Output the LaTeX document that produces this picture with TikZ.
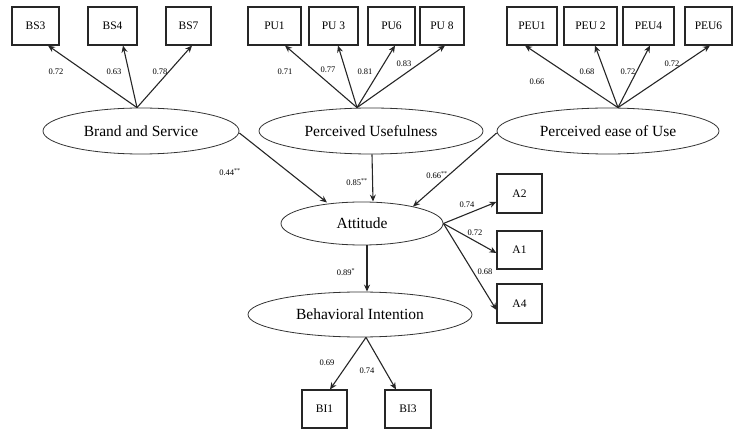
\documentclass[tikz,border=0pt]{standalone}
\usepackage{fontspec}
\setmainfont{Liberation Serif}
\usetikzlibrary{shapes.geometric,arrows.meta,calc}
\begin{document}
\begin{tikzpicture}[x=1pt,y=-1pt,
  obs/.style={draw=black!85,line width=1.1pt,rectangle,inner sep=0pt,minimum height=38pt,font=\fontsize{11.5}{12}\selectfont},
  lat/.style={draw=black!80,line width=0.8pt,ellipse,inner sep=0pt,font=\fontsize{15.5}{16}\selectfont},
  arr/.style={draw=black!85,line width=1.1pt,-{Stealth[length=7pt,width=6pt]}},
  lbl/.style={inner sep=0pt,font=\fontsize{8.5}{9}\selectfont}]
\useasboundingbox (0,0) rectangle (733,430);
% observed boxes
\node[obs,minimum width=47pt] (bs3) at (35.5,26) {BS3};
\node[obs,minimum width=49pt] (bs4) at (112.5,26) {BS4};
\node[obs,minimum width=45pt] (bs7) at (188.5,26) {BS7};
\node[obs,minimum width=53pt] (pu1) at (274.5,26) {PU1};
\node[obs,minimum width=49pt] (pu3) at (333.5,26) {PU 3};
\node[obs,minimum width=47pt] (pu6) at (391.5,26) {PU6};
\node[obs,minimum width=44pt] (pu8) at (442,26) {PU 8};
\node[obs,minimum width=50pt] (peu1) at (532,26) {PEU1};
\node[obs,minimum width=53pt] (peu2) at (590.5,26) {PEU 2};
\node[obs,minimum width=51pt] (peu4) at (648.5,26) {PEU4};
\node[obs,minimum width=47pt] (peu6) at (708.5,26) {PEU6};
\node[obs,minimum width=45pt,minimum height=39pt] (a2) at (519.5,193.5) {A2};
\node[obs,minimum width=45pt] (a1) at (519.5,250) {A1};
\node[obs,minimum width=45pt,minimum height=39pt] (a4) at (519.5,303.5) {A4};
\node[obs,minimum width=45pt] (bi1) at (324.5,409) {BI1};
\node[obs,minimum width=46pt] (bi3) at (408,409) {BI3};
% latent ellipses
\node[lat,minimum width=196pt,minimum height=46pt] (bs) at (141,131) {Brand and Service};
\node[lat,minimum width=224pt,minimum height=46pt] (pu) at (371,131) {Perceived Usefulness};
\node[lat,minimum width=222pt,minimum height=46pt] (peu) at (608,131) {Perceived ease of Use};
\node[lat,minimum width=162pt,minimum height=43pt] (att) at (362,223.5) {Attitude};
\node[lat,minimum width=224pt,minimum height=45pt] (bi) at (360,314.5) {Behavioral Intention};
% loadings
\draw[arr] ([xshift=-4pt]bs.north) -- ([xshift=12.5pt]bs3.south);
\draw[arr] ([xshift=-4pt]bs.north) -- ([xshift=10.5pt]bs4.south);
\draw[arr] ([xshift=-4pt]bs.north) -- ([xshift=3.5pt]bs7.south);
\draw[arr] ([xshift=-14pt]pu.north) -- ([xshift=10.5pt]pu1.south);
\draw[arr] ([xshift=-14pt]pu.north) -- ([xshift=4.5pt]pu3.south);
\draw[arr] ([xshift=-14pt]pu.north) -- ([xshift=3.5pt]pu6.south);
\draw[arr] ([xshift=-14pt]pu.north) -- ([xshift=3pt]pu8.south);
\draw[arr] ([xshift=10pt]peu.north) -- ([xshift=-7pt]peu1.south);
\draw[arr] ([xshift=10pt]peu.north) -- ([xshift=4.5pt]peu2.south);
\draw[arr] ([xshift=10pt]peu.north) -- ([xshift=1.5pt]peu4.south);
\draw[arr] ([xshift=10pt]peu.north) -- ([xshift=1.5pt]peu6.south);
% structural paths
\draw[arr] ([yshift=-2pt]bs.east) -- ($(att.center)+(-35,-21)$);
\draw[arr] ([xshift=1pt]pu.south) -- ([xshift=11pt]att.north);
\draw[arr] ([yshift=-2pt]peu.west) -- ($(att.center)+(51,-17)$);
\draw[arr] (att.east) -- ([yshift=-8.5pt]a2.west);
\draw[arr] (att.east) -- ([yshift=-3pt]a1.west);
\draw[arr] (att.east) -- ([yshift=-6.5pt]a4.west);
\draw[arr] ([xshift=5pt]att.south) -- ([xshift=7pt]bi.north);
\draw[arr] ([xshift=6pt]bi.south) -- ([xshift=5.5pt]bi1.north);
\draw[arr] ([xshift=6pt]bi.south) -- ([xshift=-12pt]bi3.north);
% labels
\node[lbl] (l1) at (56,72) {0.72};
\node[lbl] (l2) at (114,72) {0.63};
\node[lbl] (l3) at (160,72) {0.78};
\node[lbl] (l4) at (285,72) {0.71};
\node[lbl] (l5) at (328,70) {0.77};
\node[lbl] (l6) at (365,72) {0.81};
\node[lbl] (l7) at (404,64) {0.83};
\node[lbl] (l8) at (537,82) {0.66};
\node[lbl] (l9) at (587,72) {0.68};
\node[lbl] (l10) at (628,72) {0.72};
\node[lbl] (l11) at (672,64) {0.72};
\node[lbl] (l12) at (230,172) {0.44\textsuperscript{**}};
\node[lbl] (l13) at (357,182) {0.85\textsuperscript{**}};
\node[lbl] (l14) at (437,175) {0.66\textsuperscript{**}};
\node[lbl] (l15) at (467,205) {0.74};
\node[lbl] (l16) at (475,233) {0.72};
\node[lbl] (l17) at (485,272) {0.68};
\node[lbl] (l18) at (346,272) {0.89\textsuperscript{*}};
\node[lbl] (l19) at (327,363) {0.69};
\node[lbl] (l20) at (367,371) {0.74};
\end{tikzpicture}
\end{document}
